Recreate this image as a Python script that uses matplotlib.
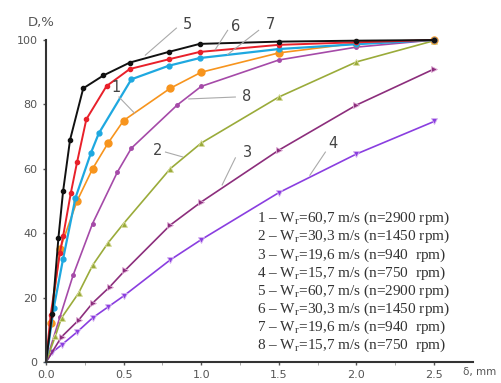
import matplotlib.pyplot as plt

# curve 1 (orange)
x1 = [0, 0.03, 0.09, 0.2, 0.3, 0.4, 0.5, 0.8, 1.0, 1.5, 2.0, 2.5]
y1 = [0, 12, 35, 50, 60, 68, 75, 85, 90, 96, 99, 100]
# curve 2 (olive)
x2 = [0, 0.06, 0.1, 0.21, 0.3, 0.4, 0.5, 0.8, 1.0, 1.5, 2.0, 2.5]
y2 = [0, 8, 13.7, 21.4, 30, 37, 43, 60, 68, 82.3, 93.2, 99.8]
# curve 3 (plum)
x3 = [0, 0.1, 0.21, 0.3, 0.41, 0.51, 0.8, 1.0, 1.5, 2.0, 2.5]
y3 = [0, 7.8, 13, 18.3, 23.3, 28.5, 42.5, 49.7, 65.8, 79.8, 91]
# curve 4 (violet)
x4 = [0, 0.04, 0.1, 0.2, 0.3, 0.4, 0.5, 0.8, 1.0, 1.5, 2.0, 2.5]
y4 = [0, 3, 5.3, 9.3, 13.7, 17.1, 20.5, 31.7, 38, 52.6, 64.6, 74.7]
# curve 5 (black)
x5 = [0, 0.04, 0.08, 0.11, 0.155, 0.24, 0.37, 0.54, 0.79, 0.99, 1.5, 2.0, 2.5]
y5 = [0, 15, 38.5, 53, 69, 85, 89, 93, 96.3, 98.8, 99.5, 99.8, 100]
# curve 6 (red)
x6 = [0, 0.03, 0.09, 0.11, 0.16, 0.2, 0.26, 0.39, 0.54, 0.79, 0.99, 1.5, 2.0, 2.5]
y6 = [0, 14.6, 34, 39, 52.5, 62, 75.4, 85.7, 91, 94, 96.3, 98.5, 99.3, 100]
# curve 7 (blue)
x7 = [0, 0.05, 0.11, 0.19, 0.29, 0.34, 0.55, 0.79, 0.99, 1.5, 2.0, 2.5]
y7 = [0, 16.8, 32, 51, 65, 71, 87.8, 92, 94.4, 97.2, 98.7, 100]
# curve 8 (orchid)
x8 = [0, 0.09, 0.175, 0.3, 0.46, 0.55, 0.845, 1.0, 1.5, 2.0, 2.5]
y8 = [0, 14, 27, 43, 59, 66.4, 79.8, 85.6, 93.8, 97.8, 100]

legend_lines = [
    "1 – W$_\\mathregular{r}$=60,7 m/s (n=2900 rpm)",
    "2 – W$_\\mathregular{r}$=30,3 m/s (n=1450 rpm)",
    "3 – W$_\\mathregular{r}$=19,6 m/s (n=940  rpm)",
    "4 – W$_\\mathregular{r}$=15,7 m/s (n=750  rpm)",
    "5 – W$_\\mathregular{r}$=60,7 m/s (n=2900 rpm)",
    "6 – W$_\\mathregular{r}$=30,3 m/s (n=1450 rpm)",
    "7 – W$_\\mathregular{r}$=19,6 m/s (n=940  rpm)",
    "8 – W$_\\mathregular{r}$=15,7 m/s (n=750  rpm)",
]

# label text position, leader line start, leader line end
labels = [
    ("5", (0.91, 104.7), (0.84, 103.7), (0.64, 95.3)),
    ("6", (1.22, 104.3), (1.17, 103.0), (1.09, 97.0)),
    ("7", (1.445, 104.7), (1.37, 103.0), (1.17, 95.5)),
    ("8", (1.29, 82.6), (1.22, 82.3), (0.92, 81.7)),
    ("1", (0.45, 85.4), (0.47, 82.3), (0.57, 77.3)),
    ("2", (0.72, 65.8), (0.77, 65.2), (0.88, 63.7)),
    ("3", (1.30, 65.2), (1.22, 63.4), (1.135, 55.0)),
    ("4", (1.85, 68.0), (1.80, 65.2), (1.70, 58.0)),
]

plt.rcParams["mathtext.fontset"] = "custom"
plt.rcParams["mathtext.rm"] = "Liberation Serif"

fig = plt.figure(figsize=(5.01, 3.83), dpi=100)
ax = fig.add_axes([0.0918, 0.0548, 0.852, 0.8407])

me = slice(1, None)
ax.plot(x8, y8, color="#a54aa8", marker="o", ms=2.5, lw=1.2, markevery=me, clip_on=False)
ax.plot(x4, y4, color="#8a3ee0", marker="v", ms=4.5, mec="#d8b8f0", mew=0.6, lw=1.2, markevery=me, clip_on=False)
ax.plot(x3, y3, color="#8c2e7c", marker=">", ms=4.5, mec="#e0b0d8", mew=0.6, lw=1.2, markevery=me, clip_on=False)
ax.plot(x2, y2, color="#9aab3a", marker="^", ms=4.5, mec="#d8dca0", mew=0.6, lw=1.2, markevery=me, clip_on=False)
ax.plot(x1, y1, color="#f7941d", marker="o", ms=5, lw=1.2, markevery=me, clip_on=False)
ax.plot(x7, y7, color="#1ea8e0", marker="o", ms=3.5, lw=1.6, markevery=me, clip_on=False)
ax.plot(x6, y6, color="#e8202a", marker="o", ms=3, lw=1.4, markevery=me, clip_on=False)
ax.plot(x5, y5, color="#111111", marker="o", ms=3, lw=1.4, markevery=me, clip_on=False)

for txt, pos, p0, p1 in labels:
    ax.plot([p0[0], p1[0]], [p0[1], p1[1]], color="#aaaaaa", lw=0.8, clip_on=False)
    ax.text(pos[0], pos[1], txt, color="#444444", fontsize=10.5,
            ha="center", va="center", clip_on=False)

for i, line in enumerate(legend_lines):
    ax.text(1.36, 44.5 - i * 5.62, line, family="Liberation Serif",
            fontsize=11, color="#333333", ha="left", va="center")

ax.set_xlim(0, 2.75)
ax.set_ylim(0, 100)
ax.set_xticks([0, 0.5, 1.0, 1.5, 2.0, 2.5])
ax.set_xticklabels(["0.0", "0.5", "1.0", "1.5", "2.0", "2.5"])
ax.set_xticks([0.25, 0.75, 1.25, 1.75, 2.25], minor=True)
ax.set_yticks([0, 20, 40, 60, 80, 100])
ax.tick_params(axis="both", colors="#555555", labelsize=8, length=2.5, width=1)
ax.tick_params(axis="x", which="minor", length=2, color="#999999")
ax.spines["top"].set_visible(False)
ax.spines["right"].set_visible(False)
ax.spines["left"].set_color("#333333")
ax.spines["bottom"].set_color("#333333")
ax.spines["left"].set_linewidth(1.5)
ax.spines["bottom"].set_linewidth(1.5)

fig.text(0.056, 0.94, "D,%", color="#555555", fontsize=9.5, ha="left", va="center")
fig.text(0.925, 0.028, "δ, mm", color="#555555", fontsize=7.5, ha="left", va="center")

plt.savefig("out.png", dpi=100)
plt.close()
